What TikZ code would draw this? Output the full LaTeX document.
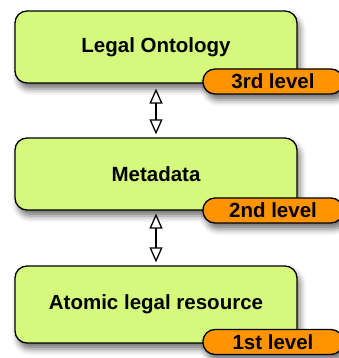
\documentclass[tikz,border=0pt]{standalone}
\usepackage{fontspec}
\setmainfont{Liberation Sans}
\usetikzlibrary{arrows.meta,shadows.blur}
\definecolor{boxgreen}{RGB}{213,249,124}
\definecolor{tagorange}{RGB}{255,148,0}
\tikzset{
  shad/.style={blur shadow={shadow xshift=3pt, shadow yshift=-6pt, shadow blur radius=6pt, shadow opacity=55}},
  levelbox/.style={draw=black, line width=1.3pt, fill=boxgreen, rounded corners=12pt,
    minimum width=282pt, inner sep=0pt, font=\fontsize{20.5}{24}\selectfont\bfseries, shad},
  leveltag/.style={draw=black, line width=1.3pt, fill=tagorange, rounded corners=12pt,
    minimum width=140pt, minimum height=25pt, inner sep=0pt, font=\fontsize{20.5}{24}\selectfont\bfseries, shad},
  biarrow/.style={line width=1.3pt, {Triangle[open, width=13pt, length=15pt, fill=white]}-{Triangle[open, width=13pt, length=15pt, fill=white]}}
}
\begin{document}
\begin{tikzpicture}[x=1pt,y=1pt]
\useasboundingbox (0,0) rectangle (339,358);
\node[levelbox, minimum height=72pt] (b1) at (156,311) {Legal Ontology};
\node[leveltag] (t1) at (273,276.5) {3rd level};
\node[levelbox, minimum height=72pt] (b2) at (156,184) {Metadata};
\node[leveltag] (t2) at (273,147.5) {2nd level};
\node[levelbox, minimum height=77pt] (b3) at (156,53.5) {Atomic legal resource};
\node[leveltag] (t3) at (273,16) {1st level};
\draw[biarrow, shorten <=5pt, shorten >=3pt] (b1.south) -- (b2.north);
\draw[biarrow, shorten <=3pt, shorten >=3pt] (b2.south) -- (b3.north);
\end{tikzpicture}
\end{document}
